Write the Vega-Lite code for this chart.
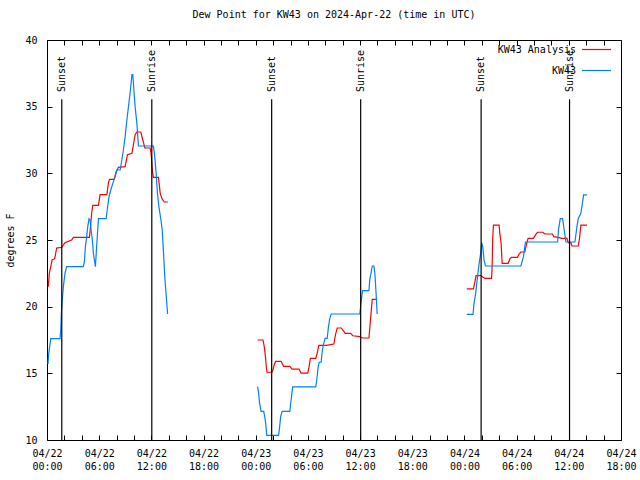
{
  "$schema": "https://vega.github.io/schema/vega-lite/v6.json",
  "width": 574,
  "height": 400,
  "autosize": {"type": "none"},
  "padding": {"left": 47, "top": 40, "right": 19, "bottom": 40},
  "background": "white",
  "title": {"text": "Dew Point for KW43 on 2024-Apr-22 (time in UTC)", "anchor": "middle", "offset": 14, "font": "DejaVu Sans Mono", "fontSize": 10, "fontWeight": "normal", "color": "black"},
  "datasets": {
    "obs": [
      {"s":"KW43 Analysis","g":1,"t":"2024-04-22T00:09:00Z","v":21.5},
      {"s":"KW43 Analysis","g":1,"t":"2024-04-22T00:16:00Z","v":22.5},
      {"s":"KW43 Analysis","g":1,"t":"2024-04-22T00:26:00Z","v":23.0},
      {"s":"KW43 Analysis","g":1,"t":"2024-04-22T00:35:00Z","v":23.5},
      {"s":"KW43 Analysis","g":1,"t":"2024-04-22T00:53:00Z","v":23.6},
      {"s":"KW43 Analysis","g":1,"t":"2024-04-22T01:07:00Z","v":24.4},
      {"s":"KW43 Analysis","g":1,"t":"2024-04-22T01:41:00Z","v":24.45},
      {"s":"KW43 Analysis","g":1,"t":"2024-04-22T02:04:00Z","v":24.8},
      {"s":"KW43 Analysis","g":1,"t":"2024-04-22T02:50:00Z","v":25.0},
      {"s":"KW43 Analysis","g":1,"t":"2024-04-22T03:02:00Z","v":25.2},
      {"s":"KW43 Analysis","g":1,"t":"2024-04-22T04:52:00Z","v":25.2},
      {"s":"KW43 Analysis","g":1,"t":"2024-04-22T04:57:00Z","v":25.6},
      {"s":"KW43 Analysis","g":1,"t":"2024-04-22T05:09:00Z","v":27.1},
      {"s":"KW43 Analysis","g":1,"t":"2024-04-22T05:16:00Z","v":27.6},
      {"s":"KW43 Analysis","g":1,"t":"2024-04-22T05:55:00Z","v":27.6},
      {"s":"KW43 Analysis","g":1,"t":"2024-04-22T06:06:00Z","v":28.4},
      {"s":"KW43 Analysis","g":1,"t":"2024-04-22T06:53:00Z","v":28.4},
      {"s":"KW43 Analysis","g":1,"t":"2024-04-22T07:04:00Z","v":29.3},
      {"s":"KW43 Analysis","g":1,"t":"2024-04-22T07:11:00Z","v":29.55},
      {"s":"KW43 Analysis","g":1,"t":"2024-04-22T07:43:00Z","v":29.55},
      {"s":"KW43 Analysis","g":1,"t":"2024-04-22T07:57:00Z","v":30.1},
      {"s":"KW43 Analysis","g":1,"t":"2024-04-22T08:13:00Z","v":30.45},
      {"s":"KW43 Analysis","g":1,"t":"2024-04-22T08:59:00Z","v":30.5},
      {"s":"KW43 Analysis","g":1,"t":"2024-04-22T09:15:00Z","v":31.4},
      {"s":"KW43 Analysis","g":1,"t":"2024-04-22T09:46:00Z","v":31.5},
      {"s":"KW43 Analysis","g":1,"t":"2024-04-22T10:08:00Z","v":32.9},
      {"s":"KW43 Analysis","g":1,"t":"2024-04-22T10:20:00Z","v":33.1},
      {"s":"KW43 Analysis","g":1,"t":"2024-04-22T10:47:00Z","v":33.1},
      {"s":"KW43 Analysis","g":1,"t":"2024-04-22T11:01:00Z","v":32.5},
      {"s":"KW43 Analysis","g":1,"t":"2024-04-22T11:15:00Z","v":31.9},
      {"s":"KW43 Analysis","g":1,"t":"2024-04-22T11:52:00Z","v":31.9},
      {"s":"KW43 Analysis","g":1,"t":"2024-04-22T11:59:00Z","v":31.4},
      {"s":"KW43 Analysis","g":1,"t":"2024-04-22T12:08:00Z","v":30.1},
      {"s":"KW43 Analysis","g":1,"t":"2024-04-22T12:14:00Z","v":29.7},
      {"s":"KW43 Analysis","g":1,"t":"2024-04-22T12:49:00Z","v":29.7},
      {"s":"KW43 Analysis","g":1,"t":"2024-04-22T13:01:00Z","v":28.5},
      {"s":"KW43 Analysis","g":1,"t":"2024-04-22T13:13:00Z","v":28.1},
      {"s":"KW43 Analysis","g":1,"t":"2024-04-22T13:29:00Z","v":27.85},
      {"s":"KW43 Analysis","g":1,"t":"2024-04-22T13:54:00Z","v":27.85},
      {"s":"KW43 Analysis","g":2,"t":"2024-04-23T00:13:00Z","v":17.5},
      {"s":"KW43 Analysis","g":2,"t":"2024-04-23T00:50:00Z","v":17.5},
      {"s":"KW43 Analysis","g":2,"t":"2024-04-23T00:59:00Z","v":17.0},
      {"s":"KW43 Analysis","g":2,"t":"2024-04-23T01:07:00Z","v":16.25},
      {"s":"KW43 Analysis","g":2,"t":"2024-04-23T01:13:00Z","v":15.5},
      {"s":"KW43 Analysis","g":2,"t":"2024-04-23T01:18:00Z","v":15.08},
      {"s":"KW43 Analysis","g":2,"t":"2024-04-23T01:53:00Z","v":15.08},
      {"s":"KW43 Analysis","g":2,"t":"2024-04-23T02:00:00Z","v":15.3},
      {"s":"KW43 Analysis","g":2,"t":"2024-04-23T02:09:00Z","v":15.7},
      {"s":"KW43 Analysis","g":2,"t":"2024-04-23T02:18:00Z","v":15.9},
      {"s":"KW43 Analysis","g":2,"t":"2024-04-23T02:55:00Z","v":15.9},
      {"s":"KW43 Analysis","g":2,"t":"2024-04-23T03:04:00Z","v":15.7},
      {"s":"KW43 Analysis","g":2,"t":"2024-04-23T03:13:00Z","v":15.52},
      {"s":"KW43 Analysis","g":2,"t":"2024-04-23T03:55:00Z","v":15.52},
      {"s":"KW43 Analysis","g":2,"t":"2024-04-23T04:11:00Z","v":15.32},
      {"s":"KW43 Analysis","g":2,"t":"2024-04-23T04:59:00Z","v":15.32},
      {"s":"KW43 Analysis","g":2,"t":"2024-04-23T05:13:00Z","v":15.02},
      {"s":"KW43 Analysis","g":2,"t":"2024-04-23T05:59:00Z","v":15.02},
      {"s":"KW43 Analysis","g":2,"t":"2024-04-23T06:08:00Z","v":15.5},
      {"s":"KW43 Analysis","g":2,"t":"2024-04-23T06:17:00Z","v":16.12},
      {"s":"KW43 Analysis","g":2,"t":"2024-04-23T06:54:00Z","v":16.12},
      {"s":"KW43 Analysis","g":2,"t":"2024-04-23T07:04:00Z","v":16.5},
      {"s":"KW43 Analysis","g":2,"t":"2024-04-23T07:15:00Z","v":17.1},
      {"s":"KW43 Analysis","g":2,"t":"2024-04-23T08:08:00Z","v":17.1},
      {"s":"KW43 Analysis","g":2,"t":"2024-04-23T08:59:00Z","v":17.2},
      {"s":"KW43 Analysis","g":2,"t":"2024-04-23T09:10:00Z","v":17.88},
      {"s":"KW43 Analysis","g":2,"t":"2024-04-23T09:22:00Z","v":18.4},
      {"s":"KW43 Analysis","g":2,"t":"2024-04-23T09:50:00Z","v":18.4},
      {"s":"KW43 Analysis","g":2,"t":"2024-04-23T10:04:00Z","v":18.2},
      {"s":"KW43 Analysis","g":2,"t":"2024-04-23T10:17:00Z","v":18.0},
      {"s":"KW43 Analysis","g":2,"t":"2024-04-23T10:54:00Z","v":18.0},
      {"s":"KW43 Analysis","g":2,"t":"2024-04-23T11:10:00Z","v":17.82},
      {"s":"KW43 Analysis","g":2,"t":"2024-04-23T11:58:00Z","v":17.75},
      {"s":"KW43 Analysis","g":2,"t":"2024-04-23T12:15:00Z","v":17.65},
      {"s":"KW43 Analysis","g":2,"t":"2024-04-23T13:01:00Z","v":17.65},
      {"s":"KW43 Analysis","g":2,"t":"2024-04-23T13:07:00Z","v":18.38},
      {"s":"KW43 Analysis","g":2,"t":"2024-04-23T13:12:00Z","v":19.05},
      {"s":"KW43 Analysis","g":2,"t":"2024-04-23T13:24:00Z","v":20.55},
      {"s":"KW43 Analysis","g":2,"t":"2024-04-23T13:58:00Z","v":20.55},
      {"s":"KW43 Analysis","g":3,"t":"2024-04-24T00:16:00Z","v":21.33},
      {"s":"KW43 Analysis","g":3,"t":"2024-04-24T01:02:00Z","v":21.33},
      {"s":"KW43 Analysis","g":3,"t":"2024-04-24T01:11:00Z","v":21.8},
      {"s":"KW43 Analysis","g":3,"t":"2024-04-24T01:20:00Z","v":22.33},
      {"s":"KW43 Analysis","g":3,"t":"2024-04-24T01:52:00Z","v":22.33},
      {"s":"KW43 Analysis","g":3,"t":"2024-04-24T02:06:00Z","v":22.22},
      {"s":"KW43 Analysis","g":3,"t":"2024-04-24T02:22:00Z","v":22.12},
      {"s":"KW43 Analysis","g":3,"t":"2024-04-24T03:07:00Z","v":22.12},
      {"s":"KW43 Analysis","g":3,"t":"2024-04-24T03:11:00Z","v":23.0},
      {"s":"KW43 Analysis","g":3,"t":"2024-04-24T03:15:00Z","v":25.12},
      {"s":"KW43 Analysis","g":3,"t":"2024-04-24T03:20:00Z","v":26.12},
      {"s":"KW43 Analysis","g":3,"t":"2024-04-24T03:59:00Z","v":26.12},
      {"s":"KW43 Analysis","g":3,"t":"2024-04-24T04:04:00Z","v":25.5},
      {"s":"KW43 Analysis","g":3,"t":"2024-04-24T04:13:00Z","v":24.75},
      {"s":"KW43 Analysis","g":3,"t":"2024-04-24T04:20:00Z","v":23.25},
      {"s":"KW43 Analysis","g":3,"t":"2024-04-24T05:01:00Z","v":23.25},
      {"s":"KW43 Analysis","g":3,"t":"2024-04-24T05:15:00Z","v":23.62},
      {"s":"KW43 Analysis","g":3,"t":"2024-04-24T05:25:00Z","v":23.7},
      {"s":"KW43 Analysis","g":3,"t":"2024-04-24T06:06:00Z","v":23.7},
      {"s":"KW43 Analysis","g":3,"t":"2024-04-24T06:17:00Z","v":23.95},
      {"s":"KW43 Analysis","g":3,"t":"2024-04-24T06:29:00Z","v":24.1},
      {"s":"KW43 Analysis","g":3,"t":"2024-04-24T06:56:00Z","v":24.1},
      {"s":"KW43 Analysis","g":3,"t":"2024-04-24T07:05:00Z","v":24.55},
      {"s":"KW43 Analysis","g":3,"t":"2024-04-24T07:19:00Z","v":25.12},
      {"s":"KW43 Analysis","g":3,"t":"2024-04-24T07:56:00Z","v":25.12},
      {"s":"KW43 Analysis","g":3,"t":"2024-04-24T08:10:00Z","v":25.38},
      {"s":"KW43 Analysis","g":3,"t":"2024-04-24T08:24:00Z","v":25.58},
      {"s":"KW43 Analysis","g":3,"t":"2024-04-24T09:01:00Z","v":25.58},
      {"s":"KW43 Analysis","g":3,"t":"2024-04-24T09:14:00Z","v":25.45},
      {"s":"KW43 Analysis","g":3,"t":"2024-04-24T10:08:00Z","v":25.45},
      {"s":"KW43 Analysis","g":3,"t":"2024-04-24T10:15:00Z","v":25.25},
      {"s":"KW43 Analysis","g":3,"t":"2024-04-24T10:47:00Z","v":25.2},
      {"s":"KW43 Analysis","g":3,"t":"2024-04-24T11:10:00Z","v":25.12},
      {"s":"KW43 Analysis","g":3,"t":"2024-04-24T11:47:00Z","v":25.12},
      {"s":"KW43 Analysis","g":3,"t":"2024-04-24T11:56:00Z","v":24.8},
      {"s":"KW43 Analysis","g":3,"t":"2024-04-24T12:14:00Z","v":24.8},
      {"s":"KW43 Analysis","g":3,"t":"2024-04-24T12:22:00Z","v":24.55},
      {"s":"KW43 Analysis","g":3,"t":"2024-04-24T13:05:00Z","v":24.55},
      {"s":"KW43 Analysis","g":3,"t":"2024-04-24T13:14:00Z","v":25.12},
      {"s":"KW43 Analysis","g":3,"t":"2024-04-24T13:23:00Z","v":26.12},
      {"s":"KW43 Analysis","g":3,"t":"2024-04-24T14:05:00Z","v":26.12},
      {"s":"KW43","g":4,"t":"2024-04-22T00:07:00Z","v":15.7},
      {"s":"KW43","g":4,"t":"2024-04-22T00:12:00Z","v":16.5},
      {"s":"KW43","g":4,"t":"2024-04-22T00:26:00Z","v":17.6},
      {"s":"KW43","g":4,"t":"2024-04-22T01:30:00Z","v":17.6},
      {"s":"KW43","g":4,"t":"2024-04-22T01:35:00Z","v":18.3},
      {"s":"KW43","g":4,"t":"2024-04-22T01:39:00Z","v":19.5},
      {"s":"KW43","g":4,"t":"2024-04-22T01:46:00Z","v":20.6},
      {"s":"KW43","g":4,"t":"2024-04-22T01:53:00Z","v":21.5},
      {"s":"KW43","g":4,"t":"2024-04-22T02:04:00Z","v":22.5},
      {"s":"KW43","g":4,"t":"2024-04-22T02:16:00Z","v":23.0},
      {"s":"KW43","g":4,"t":"2024-04-22T04:11:00Z","v":23.0},
      {"s":"KW43","g":4,"t":"2024-04-22T04:18:00Z","v":23.4},
      {"s":"KW43","g":4,"t":"2024-04-22T04:25:00Z","v":24.5},
      {"s":"KW43","g":4,"t":"2024-04-22T04:34:00Z","v":25.25},
      {"s":"KW43","g":4,"t":"2024-04-22T04:41:00Z","v":26.0},
      {"s":"KW43","g":4,"t":"2024-04-22T04:50:00Z","v":26.6},
      {"s":"KW43","g":4,"t":"2024-04-22T04:57:00Z","v":26.5},
      {"s":"KW43","g":4,"t":"2024-04-22T05:04:00Z","v":25.75},
      {"s":"KW43","g":4,"t":"2024-04-22T05:13:00Z","v":25.0},
      {"s":"KW43","g":4,"t":"2024-04-22T05:20:00Z","v":24.0},
      {"s":"KW43","g":4,"t":"2024-04-22T05:34:00Z","v":23.0},
      {"s":"KW43","g":4,"t":"2024-04-22T05:43:00Z","v":24.6},
      {"s":"KW43","g":4,"t":"2024-04-22T05:55:00Z","v":26.6},
      {"s":"KW43","g":4,"t":"2024-04-22T06:48:00Z","v":26.6},
      {"s":"KW43","g":4,"t":"2024-04-22T06:57:00Z","v":27.4},
      {"s":"KW43","g":4,"t":"2024-04-22T07:08:00Z","v":28.25},
      {"s":"KW43","g":4,"t":"2024-04-22T07:20:00Z","v":28.75},
      {"s":"KW43","g":4,"t":"2024-04-22T07:34:00Z","v":29.25},
      {"s":"KW43","g":4,"t":"2024-04-22T07:50:00Z","v":29.75},
      {"s":"KW43","g":4,"t":"2024-04-22T08:02:00Z","v":30.25},
      {"s":"KW43","g":4,"t":"2024-04-22T08:25:00Z","v":30.25},
      {"s":"KW43","g":4,"t":"2024-04-22T08:36:00Z","v":31.0},
      {"s":"KW43","g":4,"t":"2024-04-22T08:47:00Z","v":31.75},
      {"s":"KW43","g":4,"t":"2024-04-22T08:59:00Z","v":32.75},
      {"s":"KW43","g":4,"t":"2024-04-22T09:11:00Z","v":34.0},
      {"s":"KW43","g":4,"t":"2024-04-22T09:22:00Z","v":35.0},
      {"s":"KW43","g":4,"t":"2024-04-22T09:34:00Z","v":36.1},
      {"s":"KW43","g":4,"t":"2024-04-22T09:46:00Z","v":37.4},
      {"s":"KW43","g":4,"t":"2024-04-22T09:52:00Z","v":37.4},
      {"s":"KW43","g":4,"t":"2024-04-22T10:01:00Z","v":36.0},
      {"s":"KW43","g":4,"t":"2024-04-22T10:08:00Z","v":35.0},
      {"s":"KW43","g":4,"t":"2024-04-22T10:20:00Z","v":33.75},
      {"s":"KW43","g":4,"t":"2024-04-22T10:31:00Z","v":32.05},
      {"s":"KW43","g":4,"t":"2024-04-22T12:14:00Z","v":32.05},
      {"s":"KW43","g":4,"t":"2024-04-22T12:22:00Z","v":31.4},
      {"s":"KW43","g":4,"t":"2024-04-22T12:33:00Z","v":30.0},
      {"s":"KW43","g":4,"t":"2024-04-22T12:42:00Z","v":28.5},
      {"s":"KW43","g":4,"t":"2024-04-22T12:52:00Z","v":27.5},
      {"s":"KW43","g":4,"t":"2024-04-22T13:06:00Z","v":26.5},
      {"s":"KW43","g":4,"t":"2024-04-22T13:15:00Z","v":25.75},
      {"s":"KW43","g":4,"t":"2024-04-22T13:24:00Z","v":24.0},
      {"s":"KW43","g":4,"t":"2024-04-22T13:34:00Z","v":22.0},
      {"s":"KW43","g":4,"t":"2024-04-22T13:43:00Z","v":20.75},
      {"s":"KW43","g":4,"t":"2024-04-22T13:52:00Z","v":19.45},
      {"s":"KW43","g":5,"t":"2024-04-23T00:13:00Z","v":14.0},
      {"s":"KW43","g":5,"t":"2024-04-23T00:20:00Z","v":13.5},
      {"s":"KW43","g":5,"t":"2024-04-23T00:27:00Z","v":12.75},
      {"s":"KW43","g":5,"t":"2024-04-23T00:37:00Z","v":12.15},
      {"s":"KW43","g":5,"t":"2024-04-23T00:55:00Z","v":12.15},
      {"s":"KW43","g":5,"t":"2024-04-23T01:02:00Z","v":11.75},
      {"s":"KW43","g":5,"t":"2024-04-23T01:09:00Z","v":11.25},
      {"s":"KW43","g":5,"t":"2024-04-23T01:16:00Z","v":10.35},
      {"s":"KW43","g":5,"t":"2024-04-23T02:38:00Z","v":10.35},
      {"s":"KW43","g":5,"t":"2024-04-23T02:45:00Z","v":11.0},
      {"s":"KW43","g":5,"t":"2024-04-23T02:52:00Z","v":11.75},
      {"s":"KW43","g":5,"t":"2024-04-23T03:02:00Z","v":12.15},
      {"s":"KW43","g":5,"t":"2024-04-23T03:55:00Z","v":12.15},
      {"s":"KW43","g":5,"t":"2024-04-23T04:04:00Z","v":13.0},
      {"s":"KW43","g":5,"t":"2024-04-23T04:15:00Z","v":13.98},
      {"s":"KW43","g":5,"t":"2024-04-23T06:54:00Z","v":13.98},
      {"s":"KW43","g":5,"t":"2024-04-23T07:01:00Z","v":14.5},
      {"s":"KW43","g":5,"t":"2024-04-23T07:11:00Z","v":15.5},
      {"s":"KW43","g":5,"t":"2024-04-23T07:18:00Z","v":15.83},
      {"s":"KW43","g":5,"t":"2024-04-23T07:31:00Z","v":15.83},
      {"s":"KW43","g":5,"t":"2024-04-23T07:40:00Z","v":16.75},
      {"s":"KW43","g":5,"t":"2024-04-23T07:49:00Z","v":17.25},
      {"s":"KW43","g":5,"t":"2024-04-23T07:59:00Z","v":17.62},
      {"s":"KW43","g":5,"t":"2024-04-23T08:13:00Z","v":17.62},
      {"s":"KW43","g":5,"t":"2024-04-23T08:22:00Z","v":18.5},
      {"s":"KW43","g":5,"t":"2024-04-23T08:31:00Z","v":19.12},
      {"s":"KW43","g":5,"t":"2024-04-23T08:41:00Z","v":19.45},
      {"s":"KW43","g":5,"t":"2024-04-23T11:58:00Z","v":19.45},
      {"s":"KW43","g":5,"t":"2024-04-23T12:08:00Z","v":20.45},
      {"s":"KW43","g":5,"t":"2024-04-23T12:17:00Z","v":21.2},
      {"s":"KW43","g":5,"t":"2024-04-23T13:01:00Z","v":21.2},
      {"s":"KW43","g":5,"t":"2024-04-23T13:07:00Z","v":22.05},
      {"s":"KW43","g":5,"t":"2024-04-23T13:17:00Z","v":22.6},
      {"s":"KW43","g":5,"t":"2024-04-23T13:24:00Z","v":23.05},
      {"s":"KW43","g":5,"t":"2024-04-23T13:35:00Z","v":23.05},
      {"s":"KW43","g":5,"t":"2024-04-23T13:42:00Z","v":22.5},
      {"s":"KW43","g":5,"t":"2024-04-23T13:49:00Z","v":21.25},
      {"s":"KW43","g":5,"t":"2024-04-23T13:58:00Z","v":19.45},
      {"s":"KW43","g":6,"t":"2024-04-24T00:16:00Z","v":19.42},
      {"s":"KW43","g":6,"t":"2024-04-24T00:59:00Z","v":19.42},
      {"s":"KW43","g":6,"t":"2024-04-24T01:06:00Z","v":20.25},
      {"s":"KW43","g":6,"t":"2024-04-24T01:16:00Z","v":20.88},
      {"s":"KW43","g":6,"t":"2024-04-24T01:25:00Z","v":21.75},
      {"s":"KW43","g":6,"t":"2024-04-24T01:34:00Z","v":22.62},
      {"s":"KW43","g":6,"t":"2024-04-24T01:43:00Z","v":23.38},
      {"s":"KW43","g":6,"t":"2024-04-24T01:52:00Z","v":24.0},
      {"s":"KW43","g":6,"t":"2024-04-24T01:59:00Z","v":24.8},
      {"s":"KW43","g":6,"t":"2024-04-24T02:06:00Z","v":24.5},
      {"s":"KW43","g":6,"t":"2024-04-24T02:15:00Z","v":23.5},
      {"s":"KW43","g":6,"t":"2024-04-24T02:25:00Z","v":23.05},
      {"s":"KW43","g":6,"t":"2024-04-24T06:29:00Z","v":23.05},
      {"s":"KW43","g":6,"t":"2024-04-24T06:47:00Z","v":23.75},
      {"s":"KW43","g":6,"t":"2024-04-24T07:01:00Z","v":24.85},
      {"s":"KW43","g":6,"t":"2024-04-24T10:43:00Z","v":24.85},
      {"s":"KW43","g":6,"t":"2024-04-24T10:49:00Z","v":25.8},
      {"s":"KW43","g":6,"t":"2024-04-24T11:01:00Z","v":26.6},
      {"s":"KW43","g":6,"t":"2024-04-24T11:17:00Z","v":26.6},
      {"s":"KW43","g":6,"t":"2024-04-24T11:28:00Z","v":25.75},
      {"s":"KW43","g":6,"t":"2024-04-24T11:40:00Z","v":24.85},
      {"s":"KW43","g":6,"t":"2024-04-24T12:42:00Z","v":24.85},
      {"s":"KW43","g":6,"t":"2024-04-24T12:56:00Z","v":26.0},
      {"s":"KW43","g":6,"t":"2024-04-24T13:05:00Z","v":26.6},
      {"s":"KW43","g":6,"t":"2024-04-24T13:23:00Z","v":27.0},
      {"s":"KW43","g":6,"t":"2024-04-24T13:32:00Z","v":27.62},
      {"s":"KW43","g":6,"t":"2024-04-24T13:42:00Z","v":28.38},
      {"s":"KW43","g":6,"t":"2024-04-24T14:05:00Z","v":28.38}
    ],
    "sun": [
      {"t":"2024-04-22T01:42:00Z","label":"Sunset"},
      {"t":"2024-04-22T12:03:00Z","label":"Sunrise"},
      {"t":"2024-04-23T01:50:00Z","label":"Sunset"},
      {"t":"2024-04-23T12:04:00Z","label":"Sunrise"},
      {"t":"2024-04-24T01:55:00Z","label":"Sunset"},
      {"t":"2024-04-24T12:05:00Z","label":"Sunrise"}
    ]
  },
  "layer": [
    {
      "data": {"name": "obs"},
      "mark": {"type": "line", "strokeWidth": 1.2},
      "encoding": {
        "x": {
          "field": "t", "type": "temporal",
          "scale": {"type": "utc", "domain": ["2024-04-22T00:00:00Z", "2024-04-24T18:00:00Z"], "nice": false},
          "axis": {
            "orient": "bottom", "title": null, "offset": -5,
            "values": [1713744000000, 1713751200000, 1713758400000, 1713765600000, 1713772800000, 1713780000000, 1713787200000, 1713794400000, 1713801600000, 1713808800000, 1713816000000, 1713823200000, 1713830400000, 1713837600000, 1713844800000, 1713852000000, 1713859200000, 1713866400000, 1713873600000, 1713880800000, 1713888000000, 1713895200000, 1713902400000, 1713909600000, 1713916800000, 1713924000000, 1713931200000, 1713938400000, 1713945600000, 1713952800000, 1713960000000, 1713967200000, 1713974400000, 1713981600000],
            "labelExpr": "utchours(datum.value) % 6 == 0 ? [utcFormat(datum.value, '%m/%d'), utcFormat(datum.value, '%H:%M')] : ''",
            "labelOverlap": false, "labelFlush": false, "labelBound": false,
            "tickSize": 5, "labelPadding": 8, "labelLineHeight": 13
          }
        },
        "y": {
          "field": "v", "type": "quantitative",
          "scale": {"domain": [10, 40], "nice": false, "zero": false},
          "axis": {"orient": "left", "title": "degrees F", "offset": -5, "values": [10, 15, 20, 25, 30, 35, 40], "tickSize": 5, "labelPadding": 10, "titlePadding": 9}
        },
        "color": {
          "field": "s", "type": "nominal",
          "scale": {"domain": ["KW43 Analysis", "KW43"], "range": ["#ff0000", "#0080ff"]},
          "legend": {"title": null, "orient": "none", "legendX": 534, "legendY": -6}
        },
        "detail": {"field": "g", "type": "nominal"}
      }
    },
    {
      "data": {"name": "sun"},
      "mark": {"type": "rule", "color": "black", "strokeWidth": 1.2},
      "encoding": {
        "x": {
          "field": "t", "type": "temporal",
          "axis": {"orient": "top", "title": null, "labels": false, "tickSize": 5, "offset": -5,
            "values": [1713744000000, 1713751200000, 1713758400000, 1713765600000, 1713772800000, 1713780000000, 1713787200000, 1713794400000, 1713801600000, 1713808800000, 1713816000000, 1713823200000, 1713830400000, 1713837600000, 1713844800000, 1713852000000, 1713859200000, 1713866400000, 1713873600000, 1713880800000, 1713888000000, 1713895200000, 1713902400000, 1713909600000, 1713916800000, 1713924000000, 1713931200000, 1713938400000, 1713945600000, 1713952800000, 1713960000000, 1713967200000, 1713974400000, 1713981600000]}
        },
        "y": {"datum": 10, "type": "quantitative", "axis": {"orient": "right", "title": null, "labels": false, "offset": -5, "values": [10, 15, 20, 25, 30, 35, 40], "tickSize": 5}},
        "y2": {"datum": 35.55}
      }
    },
    {
      "data": {"name": "sun"},
      "mark": {"type": "text", "angle": 270, "align": "left", "baseline": "middle", "font": "DejaVu Sans Mono", "fontSize": 10, "color": "black"},
      "encoding": {
        "x": {"field": "t", "type": "temporal", "axis": null},
        "y": {"datum": 36.1, "type": "quantitative", "axis": null},
        "text": {"field": "label"}
      }
    }
  ],
  "resolve": {"axis": {"x": "independent", "y": "independent"}},
  "config": {
    "font": "DejaVu Sans Mono",
    "view": {"stroke": "black", "strokeWidth": 1},
    "axis": {
      "domain": false, "grid": false, "tickColor": "black", "tickWidth": 1,
      "labelFont": "DejaVu Sans Mono", "labelFontSize": 10, "labelColor": "black",
      "titleFont": "DejaVu Sans Mono", "titleFontSize": 10, "titleFontWeight": "normal", "titleColor": "black"
    },
    "legend": {
      "padding": 0,
      "symbolType": "stroke", "symbolSize": 841, "symbolStrokeWidth": 1.2,
      "labelAlign": "right", "labelOffset": -36,
      "labelFont": "DejaVu Sans Mono", "labelFontSize": 10, "labelColor": "black",
      "rowPadding": -16
    }
  }
}
